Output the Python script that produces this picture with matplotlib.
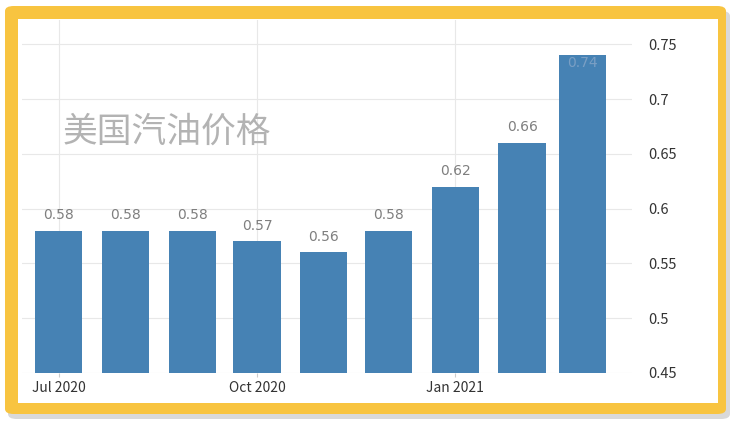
import matplotlib
matplotlib.use("Agg")
import matplotlib.pyplot as plt
import matplotlib.dates as mdates
from matplotlib.patches import FancyBboxPatch
import datetime as dt

plt.rcParams['font.family'] = ['Noto Sans CJK SC', 'DejaVu Sans']

months = ["2020-07", "2020-08", "2020-09", "2020-10", "2020-11", "2020-12", "2021-01", "2021-02", "2021-03"]
values = [0.58, 0.58, 0.58, 0.57, 0.56, 0.58, 0.62, 0.66, 0.74]
labels = ["0.58", "0.58", "0.58", "0.57", "0.56", "0.58", "0.62", "0.66", "0.74"]
yticks = [0.45, 0.5, 0.55, 0.6, 0.65, 0.7, 0.75]
ytick_labels = ["0.45", "0.5", "0.55", "0.6", "0.65", "0.7", "0.75"]
xtick_dates = ["2020-07", "2020-10", "2021-01"]
xtick_labels = ["Jul 2020", "Oct 2020", "Jan 2021"]
title = "美国汽油价格"

def to_date(s):
    y, m = s.split("-")
    return dt.date(int(y), int(m), 1)

dates = [to_date(m) for m in months]

fig = plt.figure(figsize=(7.33, 4.22), dpi=100)
fig.patch.set_facecolor("white")

# shadow and yellow frame
W, H = 733, 422
shadow = FancyBboxPatch((8 / W, 3 / H), 722 / W, 408 / H,
                        boxstyle="round,pad=0,rounding_size=0.012",
                        transform=fig.transFigure, facecolor="#d9d9d9",
                        edgecolor="none", zorder=0)
fig.patches.append(shadow)
frame = FancyBboxPatch((5 / W, 8 / H), 721 / W, 408 / H,
                       boxstyle="round,pad=0,rounding_size=0.012",
                       transform=fig.transFigure, facecolor="#F8C440",
                       edgecolor="none", zorder=1)
fig.patches.append(frame)
inner = plt.Rectangle((18 / W, 19 / H), 700 / W, 384 / H,
                      transform=fig.transFigure, facecolor="white",
                      edgecolor="none", zorder=2)
fig.patches.append(inner)

ax = fig.add_axes([22 / W, (422 - 373) / H, (632 - 22) / W, (373 - 20) / H])
ax.set_zorder(3)
ax.patch.set_alpha(0)

ax.bar(dates, [v - 0.45 for v in values], bottom=0.45, width=22,
       color="#4682B4", zorder=3)

for d, v, lab in zip(dates, values, labels):
    if v > 0.73:
        ax.text(d, v - 0.007, lab, ha="center", va="center", fontsize=10,
                color="#7a9fc4", zorder=4, family="DejaVu Sans")
    else:
        ax.text(d, v + 0.014, lab, ha="center", va="center", fontsize=10,
                color="#7f7f7f", zorder=4, family="DejaVu Sans")

ax.set_ylim(0.45, 0.45 + 353 / 1096)
ax.set_xlim(dt.date(2020, 7, 1) - dt.timedelta(days=17),
            dt.date(2020, 7, 1) + dt.timedelta(days=266))

ax.set_yticks(yticks)
ax.set_yticklabels(ytick_labels)
ax.yaxis.tick_right()
ax.tick_params(axis="y", length=0, pad=12, labelsize=10.5, labelcolor="#333333")

xt = [to_date(s) for s in xtick_dates]
ax.set_xticks(xt)
ax.set_xticklabels(xtick_labels)
ax.tick_params(axis="x", length=3, color="#cccccc", pad=3, labelsize=10,
               labelcolor="#333333")

ax.grid(True, color="#e8e8e8", linewidth=0.8, zorder=0)
ax.set_axisbelow(True)
for s in ax.spines.values():
    s.set_visible(False)

fig.text(63 / W, 1 - 132 / H, title, fontsize=25, color="#b3b3b3",
         ha="left", va="center", zorder=5)

fig.savefig("out.png", dpi=100, facecolor="white")
